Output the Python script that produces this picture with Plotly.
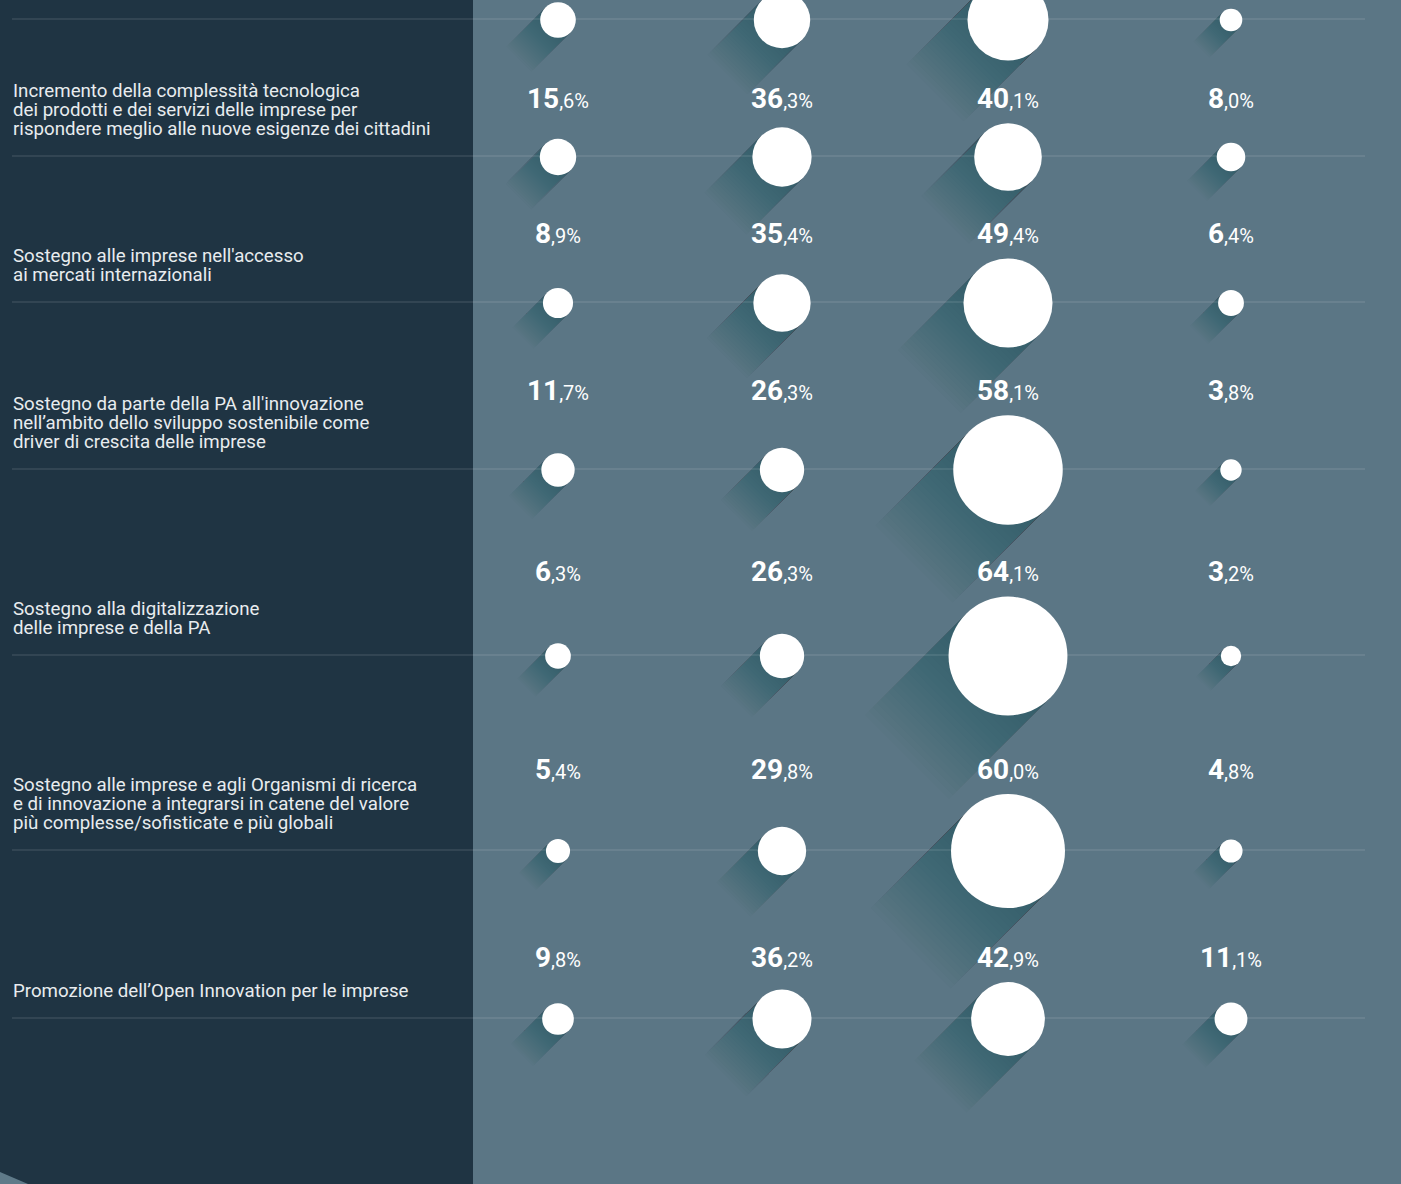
import numpy as np
import plotly.graph_objects as go

# ---------------- data ----------------
row_labels = [
    [],  # top row: label cut off in the source image
    ["Incremento della complessità tecnologica",
     "dei prodotti e dei servizi delle imprese per",
     "rispondere meglio alle nuove esigenze dei cittadini"],
    ["Sostegno alle imprese nell'accesso",
     "ai mercati internazionali"],
    ["Sostegno da parte della PA all'innovazione",
     "nell\u2019ambito dello sviluppo sostenibile come",
     "driver di crescita delle imprese"],
    ["Sostegno alla digitalizzazione",
     "delle imprese e della PA"],
    ["Sostegno alle imprese e agli Organismi di ricerca",
     "e di innovazione a integrarsi in catene del valore",
     "più complesse/sofisticate e più globali"],
    ["Promozione dell\u2019Open Innovation per le imprese"],
]

series_1 = [14.5, 15.6, 8.9, 11.7, 6.3, 5.4, 9.8]
series_2 = [35.0, 36.3, 35.4, 26.3, 26.3, 29.8, 36.2]
series_3 = [46.0, 40.1, 49.4, 58.1, 64.1, 60.0, 42.9]
series_4 = [4.5, 8.0, 6.4, 3.8, 3.2, 4.8, 11.1]
show_values = [False, True, True, True, True, True, True]

# ---------------- layout / style ----------------
W, H = 1401, 1184
PANEL_X = 473
DARK = "#1f3443"
SLATE = "#5b7685"
TEXT = "#e8ecef"
col_x = [558, 782, 1008, 1231]
row_line_y = [19, 156, 302, 469, 655, 850, 1018]

# size scale: value -> diameter (px)
size_dom = [0, 3, 10, 15, 26, 33, 43, 60, 65]
size_rng = [16, 20, 32, 36, 44, 52, 74, 114, 120]


def diam(v):
    return float(np.interp(v, size_dom, size_rng))


series = [series_1, series_2, series_3, series_4]

shapes = []
annotations = []

# dark left panel
shapes.append(dict(type="rect", xref="x", yref="y", x0=0, x1=PANEL_X, y0=0, y1=H,
                   fillcolor=DARK, line=dict(width=0), layer="below"))
# decorative corner
shapes.append(dict(type="path", xref="x", yref="y", path=f"M 0 {H-12} L 28 {H} L 0 {H} Z",
                   fillcolor="#5f7a89", line=dict(width=0), layer="below"))

# long shadows
N = 26
alpha = 0.0145
s2 = np.sqrt(0.5)
for ri, ly in enumerate(row_line_y):
    for ci, ser in enumerate(series):
        d = diam(ser[ri])
        r = d / 2
        cx, cy = col_x[ci], ly + 1
        L = 1.05 * d + 18
        p1 = (cx + r * s2, cy + r * s2)
        p2 = (cx - r * s2, cy - r * s2)
        for k in range(1, N + 1):
            lk = L * k / N
            p3 = (p2[0] - lk * s2, p2[1] + lk * s2)
            p4 = (p1[0] - lk * s2, p1[1] + lk * s2)
            path = (f"M {p1[0]:.2f} {p1[1]:.2f} L {p2[0]:.2f} {p2[1]:.2f} "
                    f"L {p3[0]:.2f} {p3[1]:.2f} L {p4[0]:.2f} {p4[1]:.2f} Z")
            shapes.append(dict(type="path", xref="x", yref="y", path=path,
                               fillcolor=f"rgba(28,38,48,{alpha})",
                               line=dict(width=0), layer="below"))

# row lines
for ly in row_line_y:
    shapes.append(dict(type="line", xref="x", yref="y", x0=12, x1=1365, y0=ly, y1=ly,
                       line=dict(color="rgba(255,255,255,0.085)", width=2), layer="below"))

# row labels
for ri, lines in enumerate(row_labels):
    n = len(lines)
    last_y = row_line_y[ri] - 27
    for li, txt in enumerate(lines):
        y = last_y - (n - 1 - li) * 19
        annotations.append(dict(x=11, y=y, xref="x", yref="y", text=txt, showarrow=False,
                                xanchor="left", yanchor="middle",
                                font=dict(family="Roboto", size=18.7, color=TEXT)))

# value labels
for ri, ly in enumerate(row_line_y):
    if not show_values[ri]:
        continue
    dmax = max(diam(s[ri]) for s in series)
    y = ly - dmax / 2 - 24
    for ci, ser in enumerate(series):
        v = ser[ri]
        ip = int(v)
        dp = int(round((v - ip) * 10))
        txt = f"<b>{ip}</b><span style='font-size:20px'>,{dp}%</span>"
        annotations.append(dict(x=col_x[ci], y=y, xref="x", yref="y", text=txt,
                                showarrow=False, xanchor="center", yanchor="middle",
                                font=dict(family="Roboto", size=28, color="#ffffff")))

fig = go.Figure()
for ci, ser in enumerate(series):
    fig.add_trace(go.Scatter(
        x=[col_x[ci]] * len(row_line_y),
        y=[ly + 1 for ly in row_line_y],
        mode="markers",
        marker=dict(size=[diam(v) for v in ser], color="#ffffff", line=dict(width=0),
                    opacity=1),
        hoverinfo="skip", showlegend=False,
    ))

fig.update_layout(
    width=W, height=H, autosize=False,
    margin=dict(l=0, r=0, t=0, b=0, pad=0),
    paper_bgcolor=SLATE, plot_bgcolor=SLATE,
    xaxis=dict(range=[0, W], visible=False, fixedrange=True),
    yaxis=dict(range=[H, 0], visible=False, fixedrange=True),
    shapes=shapes, annotations=annotations,
    showlegend=False,
)

fig.write_html("out.html", config={"displayModeBar": False},
               post_script="document.body.style.margin='0px';document.body.style.overflow='hidden';")
